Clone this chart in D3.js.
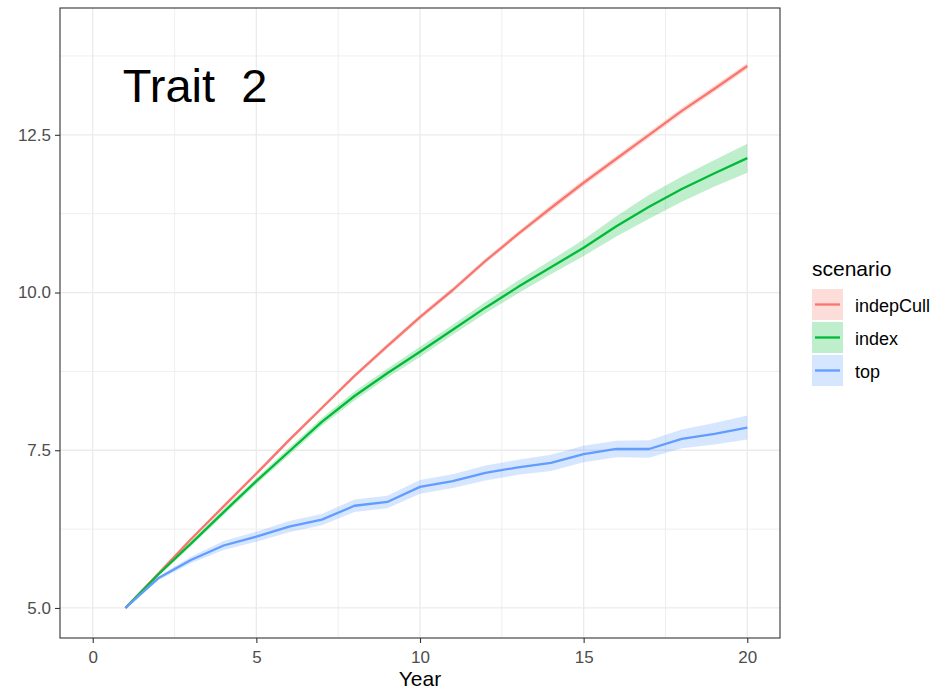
<!DOCTYPE html>
<html>
<head>
<meta charset="utf-8">
<script src="https://cdn.jsdelivr.net/npm/d3@7"></script>
<style>
  body { margin: 0; background: #fff; }
  text { font-family: "Liberation Sans", Arial, sans-serif; }
</style>
</head>
<body>
<svg id="chart"></svg>
<script>
// values
var years = [1,2,3,4,5,6,7,8,9,10,11,12,13,14,15,16,17,18,19,20];
var indepCull = [5.00,5.54,6.09,6.61,7.13,7.66,8.17,8.68,9.15,9.61,10.04,10.50,10.93,11.34,11.74,12.12,12.50,12.88,13.23,13.59];
var index = [5.00,5.53,6.02,6.52,7.01,7.48,7.95,8.36,8.72,9.06,9.41,9.76,10.09,10.40,10.71,11.05,11.36,11.64,11.89,12.13];
var top_ = [5.00,5.47,5.76,5.99,6.13,6.29,6.40,6.62,6.68,6.92,7.01,7.14,7.23,7.30,7.44,7.52,7.52,7.68,7.76,7.86];
// ribbon half widths
var indepCullSe = [0,0.02,0.02,0.03,0.03,0.03,0.03,0.03,0.04,0.04,0.04,0.04,0.04,0.05,0.05,0.05,0.05,0.05,0.05,0.05];
var indexSe = [0,0.03,0.04,0.05,0.05,0.06,0.06,0.07,0.07,0.08,0.08,0.09,0.10,0.11,0.13,0.16,0.19,0.20,0.21,0.23];
var topSe = [0,0.03,0.05,0.07,0.08,0.09,0.09,0.10,0.10,0.11,0.11,0.12,0.12,0.13,0.13,0.13,0.14,0.15,0.17,0.19];

var scenarios = ["indepCull", "index", "top"];
var colors = ["#F8766D", "#00BA38", "#619CFF"];
var xTicks = [0, 5, 10, 15, 20];
var yTicks = [5.0, 7.5, 10.0, 12.5];
var xMinor = [2.5, 7.5, 12.5, 17.5];
var yMinor = [6.25, 8.75, 11.25, 13.75];

var series = [
  {name: "indepCull", values: indepCull, se: indepCullSe},
  {name: "index", values: index, se: indexSe},
  {name: "top", values: top_, se: topSe}
];

var W = 935, H = 691;
var panel = {left: 60, top: 8, right: 780, bottom: 638};

var svg = d3.select("#chart")
  .attr("width", W)
  .attr("height", H);

var x = d3.scaleLinear().domain([-1, 21]).range([panel.left, panel.right]);
var y = d3.scaleLinear().domain([4.524, 14.51]).range([panel.bottom, panel.top]);
var color = d3.scaleOrdinal().domain(scenarios).range(colors);

// grid
var grid = svg.append("g");
grid.selectAll(".xminor").data(xMinor).enter().append("line")
  .attr("x1", d => x(d)).attr("x2", d => x(d))
  .attr("y1", panel.top).attr("y2", panel.bottom)
  .attr("stroke", "#ebebeb").attr("stroke-width", 0.8);
grid.selectAll(".yminor").data(yMinor).enter().append("line")
  .attr("x1", panel.left).attr("x2", panel.right)
  .attr("y1", d => y(d)).attr("y2", d => y(d))
  .attr("stroke", "#ebebeb").attr("stroke-width", 0.8);
grid.selectAll(".xmajor").data(xTicks).enter().append("line")
  .attr("x1", d => x(d)).attr("x2", d => x(d))
  .attr("y1", panel.top).attr("y2", panel.bottom)
  .attr("stroke", "#ebebeb").attr("stroke-width", 1.3);
grid.selectAll(".ymajor").data(yTicks).enter().append("line")
  .attr("x1", panel.left).attr("x2", panel.right)
  .attr("y1", d => y(d)).attr("y2", d => y(d))
  .attr("stroke", "#ebebeb").attr("stroke-width", 1.3);

// ribbons
var area = d3.area()
  .x((d, i) => x(years[i]))
  .y0(d => y(d.lo))
  .y1(d => y(d.hi));
var line = d3.line()
  .x((d, i) => x(years[i]))
  .y(d => y(d));

series.forEach(function(s) {
  var band = s.values.map((v, i) => ({lo: v - s.se[i], hi: v + s.se[i]}));
  svg.append("path")
    .datum(band)
    .attr("d", area)
    .attr("fill", color(s.name))
    .attr("fill-opacity", 0.25);
});
series.forEach(function(s) {
  svg.append("path")
    .datum(s.values)
    .attr("d", line)
    .attr("fill", "none")
    .attr("stroke", color(s.name))
    .attr("stroke-width", 2.3)
    .attr("stroke-linejoin", "round");
});

// panel border
svg.append("rect")
  .attr("x", panel.left).attr("y", panel.top)
  .attr("width", panel.right - panel.left)
  .attr("height", panel.bottom - panel.top)
  .attr("fill", "none")
  .attr("stroke", "#333333")
  .attr("stroke-width", 1.1);

// axes
var xAxis = svg.append("g")
  .attr("transform", "translate(0," + panel.bottom + ")")
  .call(d3.axisBottom(x).tickValues(xTicks).tickSize(5).tickPadding(8).tickFormat(d3.format("d")));
var yAxis = svg.append("g")
  .attr("transform", "translate(" + panel.left + ",0)")
  .call(d3.axisLeft(y).tickValues(yTicks).tickSize(5).tickPadding(4).tickFormat(d3.format(".1f")));
[xAxis, yAxis].forEach(function(a) {
  a.select(".domain").remove();
  a.selectAll(".tick line").attr("stroke", "#333333").attr("stroke-width", 1.1);
  a.selectAll(".tick text")
    .attr("fill", "#4d4d4d")
    .style("font-size", "17px")
    .style("font-family", "'Liberation Sans', Arial, sans-serif");
});

// axis title
svg.append("text")
  .attr("x", (panel.left + panel.right) / 2)
  .attr("y", 686)
  .attr("text-anchor", "middle")
  .style("font-size", "21px")
  .attr("fill", "#000")
  .text("Year");

// annotation
svg.append("text")
  .attr("x", x(0.92))
  .attr("y", y(13.02))
  .style("font-size", "47px")
  .style("white-space", "pre")
  .attr("fill", "#000")
  .text("Trait  2");

// legend
var legend = svg.append("g").attr("transform", "translate(812,0)");
legend.append("text")
  .attr("x", 0).attr("y", 276)
  .style("font-size", "21px")
  .attr("fill", "#000")
  .text("scenario");
var keyTop = 289, keyH = 33;
scenarios.forEach(function(name, i) {
  var ky = keyTop + i * keyH;
  legend.append("rect")
    .attr("x", 0).attr("y", ky)
    .attr("width", 31).attr("height", keyH - 2)
    .attr("fill", color(name)).attr("fill-opacity", 0.25);
  legend.append("line")
    .attr("x1", 3).attr("x2", 28)
    .attr("y1", ky + (keyH - 2) / 2).attr("y2", ky + (keyH - 2) / 2)
    .attr("stroke", color(name)).attr("stroke-width", 2.3);
  legend.append("text")
    .attr("x", 43).attr("y", ky + (keyH - 2) / 2 + 7)
    .style("font-size", "18px")
    .attr("fill", "#000")
    .text(name);
});
</script>
</body>
</html>
